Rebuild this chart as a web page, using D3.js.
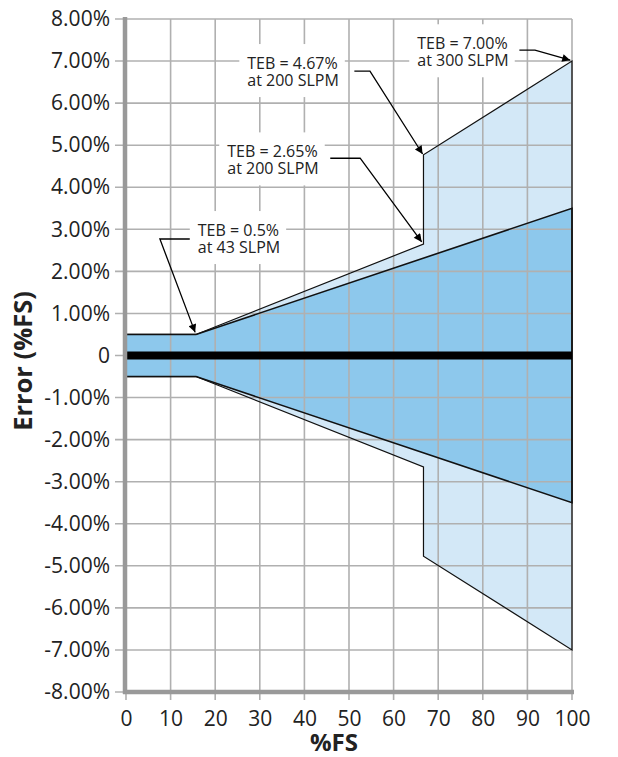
<!DOCTYPE html>
<html>
<head>
    <title>Total Error Band</title>
    <script src="https://d3js.org/d3.v7.min.js"></script>
    <style>
        html, body {
            margin: 0;
            padding: 0;
            background: #fff;
        }
        svg text {
            font-family: "Open Sans", sans-serif;
            fill: #222;
        }
    </style>
</head>
<body>
<div id="chart"></div>
<script>
    // Values
    const xTicks = [0, 10, 20, 30, 40, 50, 60, 70, 80, 90, 100];
    const yTicks = [-8, -7, -6, -5, -4, -3, -2, -1, 0, 1, 2, 3, 4, 5, 6, 7, 8];

    // inner (dark) band
    const innerX = [0, 15.7, 100];
    const innerUpper = [0.5, 0.5, 3.5];
    const innerLower = [-0.5, -0.5, -3.5];

    // outer (light) band, step at 200 SLPM
    const outerX = [0, 15.7, 66.7, 66.7, 100];
    const outerUpper = [0.5, 0.5, 2.65, 4.77, 7.0];
    const outerLower = [-0.5, -0.5, -2.65, -4.77, -7.0];

    // callouts: text anchor (data coords) and leader points
    const notes = [
        { lines: ["TEB = 0.5%", "at 43 SLPM"], at: [16.1, 2.84], leader: [[14.3, 2.77], [7.6, 2.77], [15.5, 0.55]] },
        { lines: ["TEB = 2.65%", "at 200 SLPM"], at: [22.7, 4.71], leader: [[45.8, 4.69], [52.5, 4.69], [66.3, 2.70]] },
        { lines: ["TEB = 4.67%", "at 200 SLPM"], at: [27.2, 6.81], leader: [[51.2, 6.76], [54.7, 6.76], [66.5, 4.79]] },
        { lines: ["TEB = 7.00%", "at 300 SLPM"], at: [65.3, 7.28], leader: [[88.2, 7.26], [91.7, 7.26], [99.6, 7.02]] }
    ];

    const width = 618, height = 757;
    const m = { left: 126, right: 572, top: 19, bottom: 692 };

    const svg = d3.select("#chart").append("svg")
        .attr("width", width)
        .attr("height", height);

    const x = d3.scaleLinear().domain([0, 100]).range([m.left, m.right]);
    const y = d3.scaleLinear().domain([-8, 8]).range([m.bottom, m.top]);

    // Build polygons from upper + reversed lower
    function band(xs, up, lo) {
        const pts = xs.map((d, i) => [x(d), y(up[i])]);
        for (let i = xs.length - 1; i >= 0; i--) pts.push([x(xs[i]), y(lo[i])]);
        return pts;
    }

    const outerPts = band(outerX, outerUpper, outerLower);
    const innerPts = band(innerX, innerUpper, innerLower);

    svg.append("path")
        .attr("d", d3.line()(outerPts) + "Z")
        .attr("fill", "#d3e8f7");
    svg.append("path")
        .attr("d", d3.line()(innerPts) + "Z")
        .attr("fill", "#8dc8ec");

    // grid
    svg.append("g").selectAll("line")
        .data(xTicks)
        .join("line")
        .attr("x1", d => x(d)).attr("x2", d => x(d))
        .attr("y1", m.top).attr("y2", m.bottom + 8)
        .attr("stroke", "#b0b0b0")
        .attr("stroke-width", 1.6);

    svg.append("g").selectAll("line")
        .data(yTicks)
        .join("line")
        .attr("x1", m.left - 11).attr("x2", m.right)
        .attr("y1", d => y(d)).attr("y2", d => y(d))
        .attr("stroke", "#b0b0b0")
        .attr("stroke-width", 1.6);

    // band outlines
    svg.append("path")
        .attr("d", d3.line()(outerPts) + "Z")
        .attr("fill", "none")
        .attr("stroke", "#111")
        .attr("stroke-width", 1.2);
    svg.append("path")
        .attr("d", d3.line()(innerPts) + "Z")
        .attr("fill", "none")
        .attr("stroke", "#111")
        .attr("stroke-width", 1.6);

    // zero line
    svg.append("line")
        .attr("x1", x(0)).attr("x2", x(100))
        .attr("y1", y(0)).attr("y2", y(0))
        .attr("stroke", "#000")
        .attr("stroke-width", 8);

    // axes (labels only, grid is drawn above)
    const yAxis = svg.append("g")
        .attr("transform", `translate(${m.left},0)`)
        .call(d3.axisLeft(y).tickValues(yTicks).tickSize(11).tickPadding(5)
            .tickFormat(d => d === 0 ? "0" : d.toFixed(2) + "%"));
    yAxis.select(".domain").remove();
    yAxis.selectAll(".tick line").remove();
    yAxis.selectAll("text").style("font-size", "21px").attr("fill", "#222");

    const xAxis = svg.append("g")
        .attr("transform", `translate(0,${m.bottom})`)
        .call(d3.axisBottom(x).tickValues(xTicks).tickSize(8).tickPadding(11));
    xAxis.select(".domain").remove();
    xAxis.selectAll(".tick line").remove();
    xAxis.selectAll("text").style("font-size", "21px").attr("fill", "#222");

    // heavy axis lines
    svg.append("line")
        .attr("x1", m.left - 1).attr("x2", m.left - 1)
        .attr("y1", m.top - 2).attr("y2", m.bottom + 2)
        .attr("stroke", "#999").attr("stroke-width", 4.5);
    svg.append("line")
        .attr("x1", m.left - 3).attr("x2", m.right + 2)
        .attr("y1", m.bottom).attr("y2", m.bottom)
        .attr("stroke", "#999").attr("stroke-width", 4.5);

    // titles
    svg.append("text")
        .attr("x", 334).attr("y", 751)
        .attr("text-anchor", "middle")
        .style("font-size", "24px").style("font-weight", "bold")
        .text("%FS");
    svg.append("text")
        .attr("transform", "translate(32,361) rotate(-90)")
        .attr("text-anchor", "middle")
        .style("font-size", "25.5px").style("font-weight", "bold")
        .text("Error (%FS)");

    // arrow marker
    svg.append("defs").append("marker")
        .attr("id", "arrow")
        .attr("viewBox", "0 0 10 10")
        .attr("refX", 10).attr("refY", 5)
        .attr("markerWidth", 11).attr("markerHeight", 8)
        .attr("markerUnits", "userSpaceOnUse")
        .attr("orient", "auto")
        .append("path")
        .attr("d", "M0,0 L10,5 L0,10 Z")
        .attr("fill", "#000");

    // callouts
    notes.forEach(n => {
        const g = svg.append("g");
        const bg = g.append("rect").attr("fill", "#fff");
        const t = g.append("text")
            .attr("x", x(n.at[0]))
            .attr("y", y(n.at[1]))
            .style("font-size", "16px");
        n.lines.forEach((l, i) => {
            t.append("tspan")
                .attr("x", x(n.at[0]))
                .attr("dy", i === 0 ? 0 : 17)
                .text(l);
        });
        const bb = t.node().getBBox();
        bg.attr("x", bb.x - 8).attr("y", bb.y - 8)
            .attr("width", bb.width + 14).attr("height", bb.height + 14);

        g.append("path")
            .attr("d", d3.line()(n.leader.map(p => [x(p[0]), y(p[1])])))
            .attr("fill", "none")
            .attr("stroke", "#000")
            .attr("stroke-width", 1.3)
            .attr("marker-end", "url(#arrow)");
    });
</script>
</body>
</html>
